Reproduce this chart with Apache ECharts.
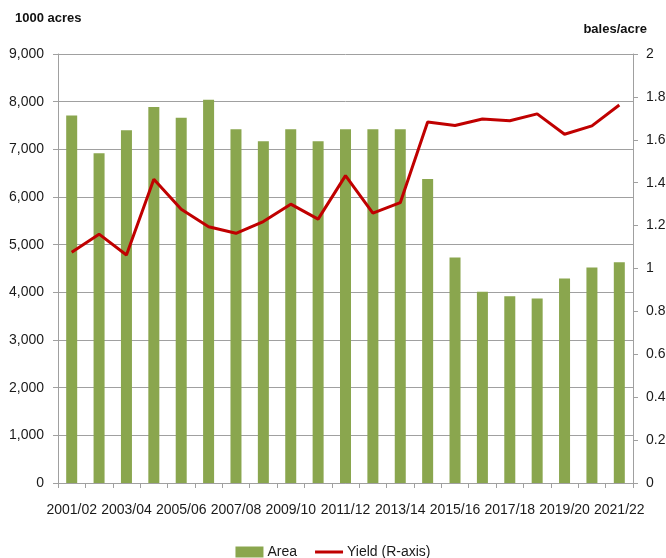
<!DOCTYPE html>
<html><head><meta charset="utf-8">
<script src="https://cdn.jsdelivr.net/npm/echarts@6/dist/echarts.min.js"></script>
<style>html,body{margin:0;padding:0;background:#fff}#c{width:666px;height:558px}</style>
</head><body><div id="c"></div>
<script>
const categories = ['2001/02','2002/03','2003/04','2004/05','2005/06','2006/07','2007/08','2008/09','2009/10','2010/11','2011/12','2012/13','2013/14','2014/15','2015/16','2016/17','2017/18','2018/19','2019/20','2020/21','2021/22'];
const area = [7710,6920,7400,7890,7660,8040,7420,7170,7420,7170,7420,7420,7420,6380,4730,4010,3920,3870,4290,4520,4630];
const yieldR = [1.076,1.160,1.063,1.416,1.276,1.195,1.164,1.219,1.300,1.230,1.433,1.258,1.307,1.683,1.667,1.697,1.689,1.721,1.626,1.665,1.762];
const leftTicks = [0,1000,2000,3000,4000,5000,6000,7000,8000,9000];
const rightTicks = [0,0.2,0.4,0.6,0.8,1,1.2,1.4,1.6,1.8,2];

const FONT = '"Liberation Sans",Arial,sans-serif';
const chart = echarts.init(document.getElementById('c'));
chart.setOption({
  animation:false,
  textStyle:{fontFamily:FONT,color:'#1a1a1a'},
  grid:{left:58,right:33,top:54,bottom:75,containLabel:false,outerBoundsMode:'none'},
  graphic:[
    {type:'text',left:15,top:12,style:{text:'1000 acres',font:'bold 13px '+FONT,fill:'#111'}},
    {type:'text',right:19,top:23,style:{text:'bales/acre',font:'bold 13px '+FONT,fill:'#111'}}
  ],
  legend:{top:540,left:'center',itemWidth:28,itemHeight:11,itemGap:18,
    textStyle:{fontSize:14,fontFamily:FONT,color:'#1a1a1a',padding:[0,0,0,-1]},
    data:[{name:'Area',icon:'rect'},{name:'Yield (R-axis)',icon:'path://M0,4L28,4L28,7L0,7Z'}]},
  xAxis:{type:'category',data:categories,boundaryGap:true,
    axisLine:{lineStyle:{color:'#a0a0a0',width:1}},
    axisTick:{show:true,interval:0,length:5,lineStyle:{color:'#a0a0a0'}},
    axisLabel:{interval:1,showMinLabel:true,showMaxLabel:true,hideOverlap:false,fontSize:14,color:'#1a1a1a',margin:20,fontFamily:FONT}},
  yAxis:[
    {type:'value',min:0,max:9000,interval:1000,
      axisLine:{show:true,lineStyle:{color:'#a0a0a0'}},
      axisTick:{show:true,length:5,lineStyle:{color:'#a0a0a0'}},
      splitLine:{lineStyle:{color:'#a0a0a0',width:1}},
      axisLabel:{fontSize:14,color:'#1a1a1a',margin:14,fontFamily:FONT,showMinLabel:true,showMaxLabel:true,
        formatter:v=>leftTicks.includes(v)?v.toLocaleString('en-US'):''}},
    {type:'value',min:0,max:2,interval:0.2,position:'right',
      axisLine:{show:true,lineStyle:{color:'#a0a0a0'}},
      axisTick:{show:true,length:5,lineStyle:{color:'#a0a0a0'}},
      splitLine:{show:false},
      axisLabel:{fontSize:14,color:'#1a1a1a',margin:13,fontFamily:FONT,showMinLabel:true,showMaxLabel:true,
        formatter:v=>{const r=rightTicks.find(t=>Math.abs(t-v)<1e-6);return r===undefined?'':String(r);}}}
  ],
  series:[
    {name:'Area',type:'bar',data:area,barWidth:11,itemStyle:{color:'#8aa64e'},yAxisIndex:0},
    {name:'Yield (R-axis)',type:'line',data:yieldR,yAxisIndex:1,symbol:'none',
      lineStyle:{color:'#c00000',width:3},itemStyle:{color:'#c00000'}}
  ]
});
</script></body></html>
